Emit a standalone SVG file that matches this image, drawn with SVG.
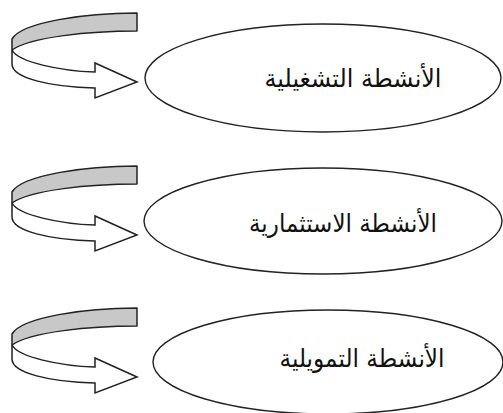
<svg xmlns="http://www.w3.org/2000/svg" width="503" height="413" viewBox="0 0 503 413">
<defs>
<style>
.oval{fill:#fff;stroke:#222;stroke-width:1.4}
.band{fill:#c8c8c8;stroke:#222;stroke-width:1.5;stroke-linejoin:round}
.front{fill:#fff;stroke:#222;stroke-width:1.5;stroke-linejoin:miter}
.lbl{font-family:"DejaVu Sans","Noto Sans",sans-serif;font-size:25px;fill:#111;text-anchor:middle}
</style>
<g id="arrowShape">
<path class="band" d="M137,13 C85,13 22,22 12,39 L12,50 C30,37 90,31 137,31 Z"/>
<path class="front" d="M12,50 C18,62 60,71 95,72 L95,63 L137,82 L95,98 L95,88 C50,87 12,78 12,64 Z"/>
</g>
</defs>
<rect width="503" height="413" fill="#fff"/>
<g id="connectors">
<use href="#arrowShape"/>
<use href="#arrowShape" transform="translate(0,153)"/>
<use href="#arrowShape" transform="translate(0,295)"/>
</g>
<g id="node-operating">
<ellipse class="oval" cx="323" cy="78" rx="178" ry="54"/>
<text class="lbl" x="353" y="87" direction="rtl" textLength="177" lengthAdjust="spacingAndGlyphs">الأنشطة التشغيلية</text>
</g>
<g id="node-investing">
<ellipse class="oval" cx="323" cy="221" rx="179" ry="53"/>
<text class="lbl" x="343" y="232" direction="rtl" textLength="188" lengthAdjust="spacingAndGlyphs">الأنشطة الاستثمارية</text>
</g>
<g id="node-financing">
<ellipse class="oval" cx="328" cy="362" rx="175" ry="52"/>
<text class="lbl" x="362" y="367" direction="rtl" textLength="165" lengthAdjust="spacingAndGlyphs">الأنشطة التمويلية</text>
</g>
</svg>
